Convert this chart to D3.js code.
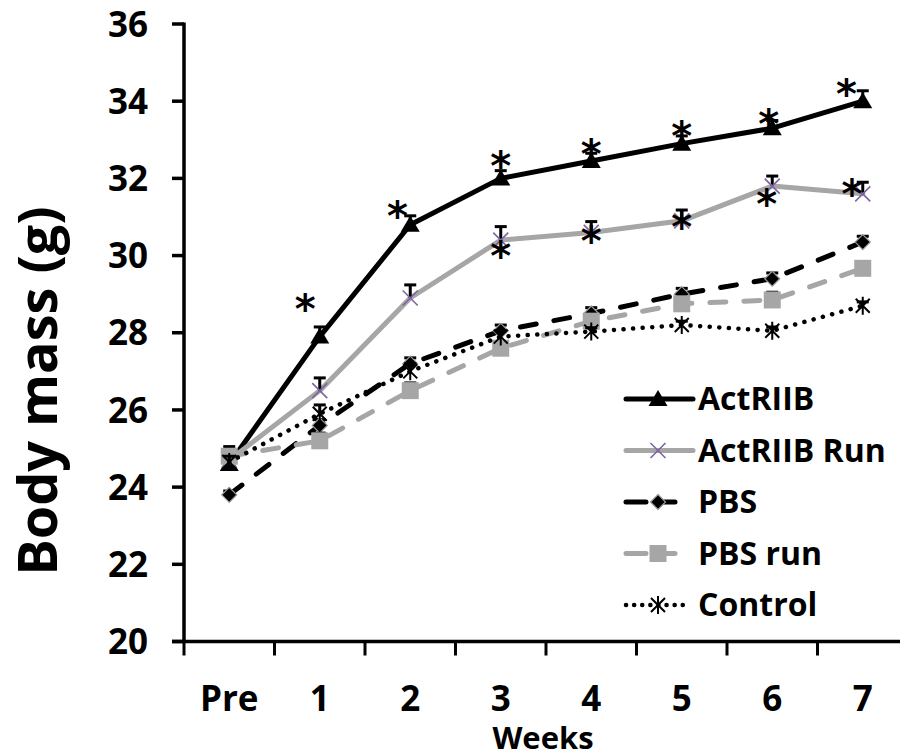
<!DOCTYPE html>
<html>
<head>
<meta charset="utf-8">
<script src="https://cdn.jsdelivr.net/npm/d3@7/dist/d3.min.js"></script>
<style>
  html, body { margin: 0; padding: 0; background: #fff; }
  svg { display: block; }
  text { font-family: "Open Sans", "DejaVu Sans", sans-serif; font-weight: 700; fill: #000; }
</style>
</head>
<body>
<svg id="chart" width="900" height="756"></svg>
<script>
// ---- data ----
const categories = ["Pre", "1", "2", "3", "4", "5", "6", "7"];
const yTicks = [20, 22, 24, 26, 28, 30, 32, 34, 36];

const actriib      = [24.6, 27.9, 30.8, 32.0, 32.45, 32.9, 33.3, 34.0];
const actriibErr   = [0.2, 0.25, 0.23, 0.2, 0.2, 0.2, 0.2, 0.27];
const actriibRun   = [24.7, 26.5, 28.9, 30.4, 30.6, 30.9, 31.8, 31.6];
const actriibRunErr= [0.2, 0.33, 0.34, 0.35, 0.28, 0.28, 0.26, 0.3];
const pbs          = [23.8, 25.6, 27.2, 28.05, 28.5, 29.0, 29.4, 30.35];
const pbsErr       = [0.1, 0.15, 0.15, 0.15, 0.15, 0.15, 0.15, 0.15];
const pbsRun       = [24.8, 25.2, 26.5, 27.6, 28.3, 28.75, 28.85, 29.67];
const pbsRunErr    = [0.25, 0.2, 0.2, 0.15, 0.15, 0.15, 0.2, 0.15];
const control      = [24.65, 25.9, 27.0, 27.9, 28.03, 28.2, 28.05, 28.7];
const controlErr   = [0.15, 0.23, 0.2, 0.15, 0.1, 0.1, 0.1, 0.1];

const seriesNames = ["ActRIIB", "ActRIIB Run", "PBS", "PBS run", "Control"];

// significance asterisks: [category index, y value, horizontal shift in band fractions]
const sigActriib = [[1, 28.72, -0.16], [2, 31.14, -0.14], [3, 32.43, 0], [4, 32.74, 0], [5, 33.21, 0], [6, 33.51, -0.04], [7, 34.29, -0.18]];
const sigActriibRun = [[3, 30.10, 0], [4, 30.49, 0], [5, 30.84, 0], [6, 31.44, -0.06], [7, 31.70, -0.12]];

// ---- layout ----
const svg = d3.select("#chart");
const axisX = 184, axisBottom = 641.5, axisTop = 24;
const band = 90.5;

const x = d3.scaleBand().domain(categories).range([axisX, axisX + band * categories.length]).paddingInner(0).paddingOuter(0);
const y = d3.scaleLinear().domain([20, 36]).range([axisBottom, axisTop]);
const cx = c => x(c) + x.bandwidth() / 2;

const GRAY = "#a6a6a6", PURPLE = "#8064a2";

const series = [
  { name: seriesNames[0], values: actriib, err: actriibErr, color: "#000", dash: null, width: 5, marker: "triangle" },
  { name: seriesNames[1], values: actriibRun, err: actriibRunErr, color: GRAY, dash: null, width: 5, marker: "x" },
  { name: seriesNames[2], values: pbs, err: pbsErr, color: "#000", dash: "16,18", width: 5, marker: "diamond" },
  { name: seriesNames[3], values: pbsRun, err: pbsRunErr, color: GRAY, dash: "16,18", width: 5, marker: "square" },
  { name: seriesNames[4], values: control, err: controlErr, color: "#000", dash: "0.1,9.5", width: 4.5, marker: "star" }
];

function drawMarker(g, type, px, py) {
  if (type === "triangle") {
    g.append("path").attr("d", `M${px},${py - 9}L${px + 9.5},${py + 7}L${px - 9.5},${py + 7}Z`).attr("fill", "#000");
  } else if (type === "x") {
    g.append("path").attr("d", `M${px - 7.5},${py - 7.5}L${px + 7.5},${py + 7.5}M${px + 7.5},${py - 7.5}L${px - 7.5},${py + 7.5}`)
      .attr("stroke", PURPLE).attr("stroke-width", 1.6).attr("fill", "none");
  } else if (type === "diamond") {
    g.append("path").attr("d", `M${px},${py - 7.5}L${px + 7.5},${py}L${px},${py + 7.5}L${px - 7.5},${py}Z`)
      .attr("fill", "#000").attr("stroke", "#9a9a9a").attr("stroke-width", 1.2);
  } else if (type === "square") {
    g.append("rect").attr("x", px - 8.5).attr("y", py - 8.5).attr("width", 17).attr("height", 17).attr("fill", GRAY);
  } else if (type === "star") {
    g.append("path").attr("d", `M${px - 7},${py - 7}L${px + 7},${py + 7}M${px + 7},${py - 7}L${px - 7},${py + 7}M${px},${py - 9}L${px},${py + 9}`)
      .attr("stroke", "#000").attr("stroke-width", 2).attr("fill", "none");
  }
}

const plot = svg.append("g");
const line = d3.line().x((d, i) => cx(categories[i])).y(d => y(d));

series.forEach(s => {
  const g = plot.append("g");
  const path = g.append("path").datum(s.values).attr("d", line)
    .attr("fill", "none").attr("stroke", s.color).attr("stroke-width", s.width)
    .attr("stroke-linejoin", "round").attr("stroke-linecap", "round");
  if (s.dash) path.attr("stroke-dasharray", s.dash);
  // error bars (upper)
  s.values.forEach((v, i) => {
    const px = cx(categories[i]);
    g.append("line").attr("x1", px).attr("x2", px).attr("y1", y(v)).attr("y2", y(v + s.err[i]))
      .attr("stroke", "#000").attr("stroke-width", 3);
    g.append("line").attr("x1", px - 6).attr("x2", px + 6).attr("y1", y(v + s.err[i])).attr("y2", y(v + s.err[i]))
      .attr("stroke", "#000").attr("stroke-width", 3);
  });
  s.values.forEach((v, i) => drawMarker(g, s.marker, cx(categories[i]), y(v)));
});

// significance asterisks
const sigG = svg.append("g");
[...sigActriib, ...sigActriibRun].forEach(([i, v, sh]) => {
  sigG.append("text").attr("x", cx(categories[i]) + sh * band).attr("y", y(v) + 18)
    .attr("text-anchor", "middle").attr("font-size", 40).style("font-family", "'DejaVu Sans', sans-serif").text("*");
});

// ---- axes ----
const yAxis = svg.append("g");
yAxis.append("line").attr("x1", axisX).attr("x2", axisX).attr("y1", axisTop - 1.5).attr("y2", axisBottom + 1.5)
  .attr("stroke", "#000").attr("stroke-width", 3.5);
yTicks.forEach(t => {
  yAxis.append("line").attr("x1", axisX - 12).attr("x2", axisX).attr("y1", y(t)).attr("y2", y(t))
    .attr("stroke", "#000").attr("stroke-width", 3.5);
  yAxis.append("text").attr("x", 148).attr("y", y(t)).attr("dy", "0.36em").attr("text-anchor", "end")
    .attr("font-size", 35).text(t);
});

const xAxis = svg.append("g");
xAxis.append("line").attr("x1", axisX - 12).attr("x2", 900).attr("y1", axisBottom).attr("y2", axisBottom)
  .attr("stroke", "#000").attr("stroke-width", 3.5);
categories.forEach(c => {
  xAxis.append("line").attr("x1", x(c)).attr("x2", x(c)).attr("y1", axisBottom).attr("y2", axisBottom + 14)
    .attr("stroke", "#000").attr("stroke-width", 3);
  xAxis.append("text").attr("x", cx(c)).attr("y", 711).attr("text-anchor", "middle").attr("font-size", 35).text(c);
});

svg.append("text").attr("x", 543).attr("y", 749).attr("text-anchor", "middle").attr("font-size", 31).text("Weeks");
svg.append("text").attr("transform", "translate(57,391) rotate(-90)").attr("text-anchor", "middle")
  .attr("font-size", 54).text("Body mass (g)");

// ---- legend ----
const leg = svg.append("g");
const legLen = [67, 67, 58, 58, 61];
series.forEach((s, i) => {
  const ly = 399 + i * 51.5;
  const p = leg.append("line").attr("x1", 626).attr("x2", 626 + legLen[i]).attr("y1", ly).attr("y2", ly)
    .attr("stroke", s.color).attr("stroke-width", s.width).attr("stroke-linecap", "round");
  if (s.dash) p.attr("stroke-dasharray", s.marker === "star" ? "0.1,8" : "20,9");
  drawMarker(leg, s.marker, 658, ly);
  leg.append("text").attr("x", 698).attr("y", ly + 11).attr("font-size", 32).text(s.name);
});
</script>
</body>
</html>
